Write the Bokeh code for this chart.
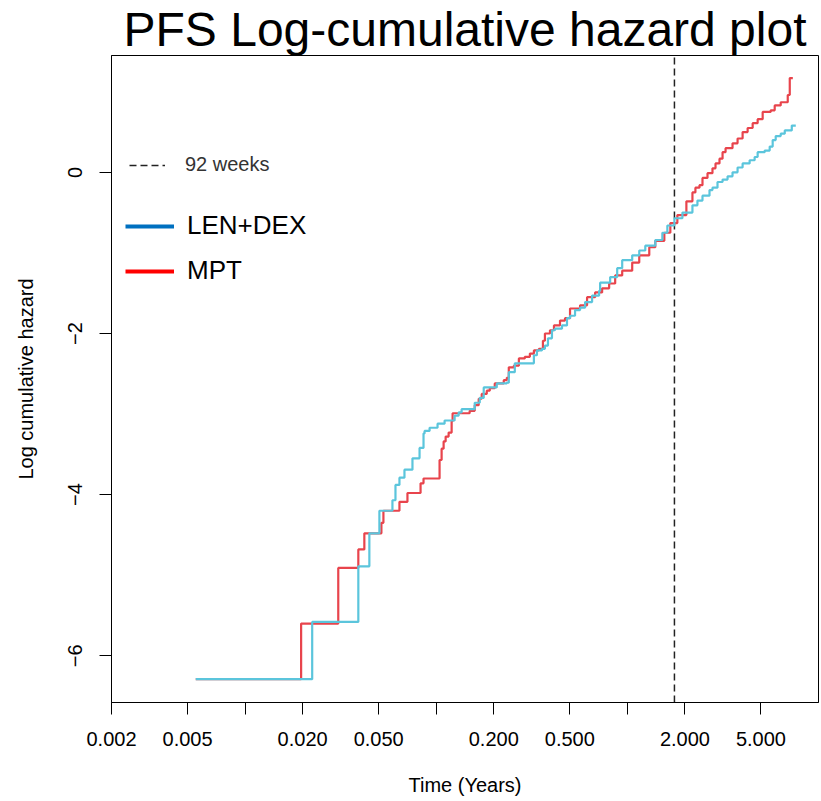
from bokeh.plotting import figure
from bokeh.models import Range1d, FixedTicker, Legend, LegendItem
from bokeh.embed import file_html
from bokeh.resources import INLINE

TITLE = "PFS Log-cumulative hazard plot"
X_LABEL = "Time (Years)"
Y_LABEL = "Log cumulative hazard"
X_TICKS = [0.002, 0.005, 0.01, 0.02, 0.05, 0.1, 0.2, 0.5, 1, 2, 5]
X_TICK_LABELS = ["0.002", "0.005", "", "0.020", "0.050", "", "0.200", "0.500", "", "2.000", "5.000"]
Y_TICKS = [-6, -4, -2, 0]
X_LIM = (0.002, 10.0)
Y_LIM = (-6.58, 1.45)
VLINE_WEEKS = 92
WEEKS_PER_YEAR = 365.25 / 7
SERIES_NAMES = ["LEN+DEX", "MPT"]
VLINE_NAME = "92 weeks"

len_dex_t = [0.00552, 0.02244, 0.03912, 0.04468, 0.05042, 0.0590, 0.0612, 0.0642, 0.0682, 0.0751,
             0.0818, 0.0858, 0.0869, 0.0923, 0.1016, 0.1106, 0.1248, 0.1310, 0.1358, 0.1590,
             0.1689, 0.1772, 0.2074, 0.2340, 0.2397, 0.2577, 0.3243, 0.3364, 0.3573, 0.3704,
             0.3842, 0.4032, 0.4180, 0.4550, 0.4832, 0.5012, 0.5324, 0.5656, 0.6008, 0.6538,
             0.7116, 0.7202, 0.8128, 0.8846, 0.9396, 1.060, 1.154, 1.241, 1.400, 1.524,
             1.619, 1.762, 1.941, 2.190, 2.326, 2.472, 2.690, 2.788, 2.962, 3.148,
             3.344, 3.550, 3.772, 4.008, 4.362, 4.634, 4.804, 5.230, 5.554, 5.758,
             5.972, 6.344, 6.660, 7.248, 7.606]
len_dex_y = [-6.29, -5.58, -4.89, -4.48, -4.20, -4.07, -3.88, -3.79, -3.69, -3.55,
             -3.42, -3.24, -3.21, -3.17, -3.12, -3.08, -3.02, -2.98, -2.94, -2.86,
             -2.80, -2.67, -2.62, -2.61, -2.48, -2.37, -2.27, -2.21, -2.19, -2.15,
             -2.06, -1.96, -1.94, -1.90, -1.81, -1.78, -1.71, -1.68, -1.61, -1.53,
             -1.47, -1.37, -1.30, -1.19, -1.09, -1.03, -0.97, -0.91, -0.84, -0.75,
             -0.66, -0.57, -0.50, -0.41, -0.35, -0.29, -0.22, -0.19, -0.12, -0.09,
             -0.05, 0.00, 0.06, 0.11, 0.15, 0.19, 0.25, 0.27, 0.32, 0.40,
             0.45, 0.48, 0.52, 0.58, 0.58]

mpt_t = [0.00552, 0.01964, 0.03072, 0.03912, 0.04206, 0.05166, 0.05293, 0.0642, 0.0707, 0.0828,
         0.0858, 0.1041, 0.1067, 0.1093, 0.1120, 0.1161, 0.1204, 0.1218, 0.1496, 0.1590,
         0.1668, 0.1730, 0.1838, 0.1906, 0.2024, 0.2256, 0.2340, 0.2397, 0.2547, 0.2706,
         0.2908, 0.3090, 0.3243, 0.3446, 0.3616, 0.3704, 0.3936, 0.4130, 0.4442, 0.4718,
         0.5012, 0.5656, 0.6154, 0.678, 0.7378, 0.803, 0.8634, 0.9396, 1.060, 1.154,
         1.302, 1.400, 1.561, 1.678, 1.826, 2.036, 2.190, 2.270, 2.384, 2.472,
         2.626, 2.788, 2.892, 3.034, 3.148, 3.264, 3.550, 3.772, 4.008, 4.258,
         4.524, 4.804, 5.104, 5.622, 5.900, 6.344, 6.904, 7.074, 7.34]
mpt_y = [-6.29, -5.60, -4.91, -4.68, -4.48, -4.35, -4.20, -4.09, -3.98, -3.86,
         -3.80, -3.57, -3.43, -3.34, -3.28, -3.23, -3.09, -2.99, -2.96, -2.89,
         -2.81, -2.75, -2.71, -2.68, -2.62, -2.58, -2.55, -2.42, -2.40, -2.31,
         -2.29, -2.25, -2.21, -2.19, -2.09, -2.00, -1.96, -1.90, -1.84, -1.81,
         -1.69, -1.65, -1.55, -1.49, -1.44, -1.38, -1.28, -1.22, -1.12, -1.03,
         -0.93, -0.85, -0.75, -0.63, -0.53, -0.36, -0.25, -0.19, -0.16, -0.07,
         -0.01, 0.05, 0.11, 0.17, 0.25, 0.30, 0.36, 0.42, 0.50, 0.55,
         0.61, 0.66, 0.75, 0.77, 0.83, 0.87, 0.96, 1.17, 1.17]

FONT = "Liberation Sans"
CYAN = "#5bc5dc"
RED = "#e8444c"
LEG_BLUE = "#0070c0"
LEG_RED = "#ff0000"

p = figure(width=821, height=801, x_axis_type="log",
           x_range=Range1d(*X_LIM), y_range=Range1d(*Y_LIM),
           output_backend="svg", toolbar_location=None,
           min_border_left=111, min_border_right=3, min_border_top=55, min_border_bottom=99)

p.title.text = TITLE
p.title.text_font = FONT
p.title.text_font_size = "48px"
p.title.text_font_style = "normal"
p.title.align = "center"
p.title.text_color = "black"
p.title.standoff = 0

p.background_fill_color = "white"
p.border_fill_color = "white"
p.outline_line_color = "black"
p.outline_line_width = 1
p.xgrid.visible = False
p.ygrid.visible = False

for ax in (p.xaxis[0], p.yaxis[0]):
    ax.axis_line_color = "black"
    ax.major_tick_line_color = "black"
    ax.minor_tick_line_color = None
    ax.major_tick_out = 12
    ax.major_tick_in = 0
    ax.major_label_text_font = FONT
    ax.major_label_text_font_size = "20px"
    ax.major_label_text_color = "black"
    ax.axis_label_text_font = FONT
    ax.axis_label_text_font_size = "20px"
    ax.axis_label_text_font_style = "normal"
    ax.axis_label_text_color = "black"

p.xaxis.ticker = FixedTicker(ticks=X_TICKS)
p.xaxis.major_label_overrides = {t: lab for t, lab in zip(X_TICKS, X_TICK_LABELS)}
p.xaxis.axis_label = X_LABEL
p.xaxis.major_label_standoff = 17
p.xaxis.axis_label_standoff = 25

p.yaxis.ticker = FixedTicker(ticks=Y_TICKS)
p.yaxis.axis_label = Y_LABEL
p.yaxis.major_label_orientation = "vertical"
p.yaxis.major_label_standoff = 17
p.yaxis.axis_label_standoff = 29

vt = VLINE_WEEKS / WEEKS_PER_YEAR
r_v = p.line([vt, vt], list(Y_LIM), line_color="#222222", line_dash="7 4", line_width=1.5)
r_mpt = p.step(mpt_t, mpt_y, mode="after", line_color=RED, line_width=2.2)
r_len = p.step(len_dex_t, len_dex_y, mode="after", line_color=CYAN, line_width=2.2)

# legend-only proxies (a single undefined point, so nothing is drawn in the plot)
leg_len = p.line([1.0], [float("nan")], line_color=LEG_BLUE, line_width=4)
leg_mpt = p.line([1.0], [float("nan")], line_color=LEG_RED, line_width=4)

legend1 = Legend(items=[LegendItem(label=VLINE_NAME, renderers=[r_v])],
                 location=(18, 526), glyph_width=36, glyph_height=20, label_height=20,
                 label_standoff=20, label_text_font=FONT, label_text_font_size="20px",
                 label_text_color="#333333", padding=0, margin=0,
                 border_line_color=None, background_fill_alpha=0)
legend2 = Legend(items=[LegendItem(label=SERIES_NAMES[0], renderers=[leg_len]),
                        LegendItem(label=SERIES_NAMES[1], renderers=[leg_mpt])],
                 location=(14, 416), glyph_width=49, glyph_height=30, label_height=30,
                 spacing=14, label_standoff=13, label_text_font=FONT, label_text_font_size="26px",
                 label_text_color="black", padding=0, margin=0,
                 border_line_color=None, background_fill_alpha=0)
p.add_layout(legend1)
p.add_layout(legend2)

open("out.html", "w").write(file_html(p, INLINE))
